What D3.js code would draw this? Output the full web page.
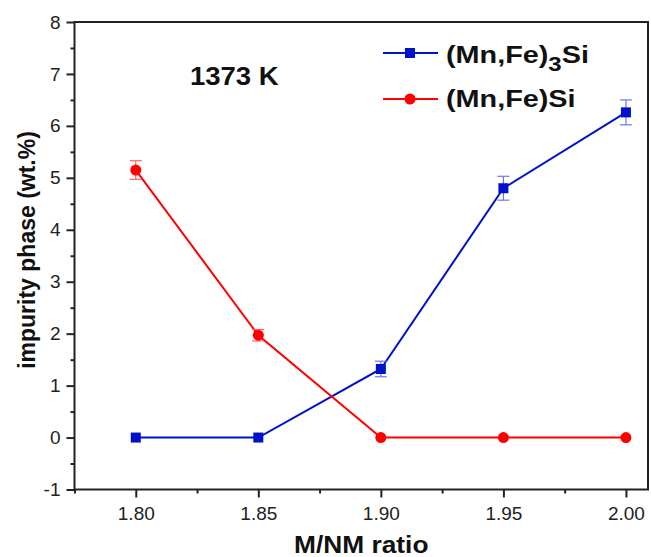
<!DOCTYPE html>
<html><head><meta charset="utf-8">
<script src="https://cdn.jsdelivr.net/npm/d3@7"></script>
<style>body{margin:0;background:#fff}svg{display:block}text{font-family:"Liberation Sans",Arial,sans-serif}</style>
</head><body><svg id="c" width="651" height="557"></svg>
<script>
const ratios = [1.80, 1.85, 1.90, 1.95, 2.00];
const mnfe3si = [0, 0, 1.32, 4.80, 6.26];
const mnfe3siErr = [0, 0, 0.15, 0.23, 0.24];
const mnfesi = [5.15, 1.97, 0, 0, 0];
const mnfesiErr = [0.18, 0.11, 0, 0, 0];
const xTicks = [1.80, 1.85, 1.90, 1.95, 2.00];
const xTickLabels = ["1.80", "1.85", "1.90", "1.95", "2.00"];
const yTicks = [-1, 0, 1, 2, 3, 4, 5, 6, 7, 8];
const yTickLabels = ["-1", "0", "1", "2", "3", "4", "5", "6", "7", "8"];

const svg = d3.select("#c");
const L = 74.5, R = 648, T = 22, B = 489.5;
const x = d3.scaleLinear().domain([1.775, 2.009]).range([L, R]);
const y = d3.scaleLinear().domain([-1, 8]).range([B, T]);

const xAxis = d3.axisBottom(x).tickValues(xTicks).tickFormat((d,i)=>xTickLabels[i]).tickSize(8).tickPadding(9);
const xMinor = d3.axisBottom(x).tickValues([1.775,1.825,1.875,1.925,1.975]).tickFormat("").tickSize(4);
const yAxis = d3.axisLeft(y).tickValues(yTicks).tickFormat((d,i)=>yTickLabels[i]).tickSize(8).tickPadding(6);
const yMinor = d3.axisLeft(y).tickValues(d3.range(-0.5, 8, 1)).tickFormat("").tickSize(4);

function style(g){ g.select(".domain").remove(); g.selectAll("line").attr("stroke","#222").attr("stroke-width",2); g.selectAll("text").attr("font-size",19).attr("fill","#222").attr("font-family","Liberation Sans, Arial, sans-serif"); }
svg.append("g").attr("transform",`translate(0,${B})`).call(xAxis).call(style);
svg.append("g").attr("transform",`translate(0,${B})`).call(xMinor).call(style);
svg.append("g").attr("transform",`translate(${L},0)`).call(yAxis).call(style);
svg.append("g").attr("transform",`translate(${L},0)`).call(yMinor).call(style);

svg.append("rect").attr("x",L).attr("y",T).attr("width",R-L).attr("height",B-T).attr("fill","none").attr("stroke","#222").attr("stroke-width",2);

// titles
svg.append("text").attr("transform",`translate(${(L+R)/2},553) scale(1.12,1)`).attr("text-anchor","middle").attr("font-weight","bold").attr("font-size",23.5).attr("fill","#111").text("M/NM ratio");
svg.append("text").attr("transform",`translate(35,250) rotate(-90)`).attr("text-anchor","middle").attr("font-weight","bold").attr("font-size",23).attr("fill","#111").text("impurity phase (wt.%)");
svg.append("text").attr("transform","translate(190,85) scale(1.1,1)").attr("font-weight","bold").attr("font-size",25).attr("fill","#111").text("1373 K");

const series = [
  {vals: mnfe3si, err: mnfe3siErr, color: "#0011cc", errColor:"#6677ee", shape: "square"},
  {vals: mnfesi, err: mnfesiErr, color: "#ff0000", errColor:"#ff6666", shape: "circle"}
];
const line = d3.line().x((d,i)=>x(ratios[i])).y(d=>y(d));
series.forEach(s=>{
  const g = svg.append("g");
  g.append("path").datum(s.vals).attr("d",line).attr("fill","none").attr("stroke",s.color).attr("stroke-width",2);
  s.vals.forEach((v,i)=>{
    const e = s.err[i];
    if(e>0){
      const cx = x(ratios[i]);
      g.append("line").attr("x1",cx).attr("x2",cx).attr("y1",y(v-e)).attr("y2",y(v+e)).attr("stroke",s.errColor).attr("stroke-width",1.2);
      [v-e,v+e].forEach(w=>g.append("line").attr("x1",cx-6).attr("x2",cx+6).attr("y1",y(w)).attr("y2",y(w)).attr("stroke",s.errColor).attr("stroke-width",1.2));
    }
  });
  s.vals.forEach((v,i)=>{
    if(s.shape==="square") g.append("rect").attr("x",x(ratios[i])-5).attr("y",y(v)-5).attr("width",10).attr("height",10).attr("fill",s.color);
    else g.append("circle").attr("cx",x(ratios[i])).attr("cy",y(v)).attr("r",5.5).attr("fill",s.color);
  });
});

// legend
const leg = svg.append("g");
const legItems = [{c:"#0011cc", shape:"square", y:53}, {c:"#ff0000", shape:"circle", y:99}];
legItems.forEach(it=>{
  leg.append("line").attr("x1",383).attr("x2",438).attr("y1",it.y).attr("y2",it.y).attr("stroke",it.c).attr("stroke-width",2);
  if(it.shape==="square") leg.append("rect").attr("x",405).attr("y",it.y-5).attr("width",10).attr("height",10).attr("fill",it.c);
  else leg.append("circle").attr("cx",410).attr("cy",it.y).attr("r",5.5).attr("fill",it.c);
});
const t1 = leg.append("text").attr("transform","translate(446,63) scale(1.2,1)").attr("font-weight","bold").attr("font-size",24).attr("fill","#111");
t1.append("tspan").text("(Mn,Fe)");
t1.append("tspan").attr("dy",8).attr("font-size",20).text("3");
t1.append("tspan").attr("dy",-8).text("Si");
leg.append("text").attr("transform","translate(446,107) scale(1.2,1)").attr("font-weight","bold").attr("font-size",24).attr("fill","#111").text("(Mn,Fe)Si");
</script></body></html>
